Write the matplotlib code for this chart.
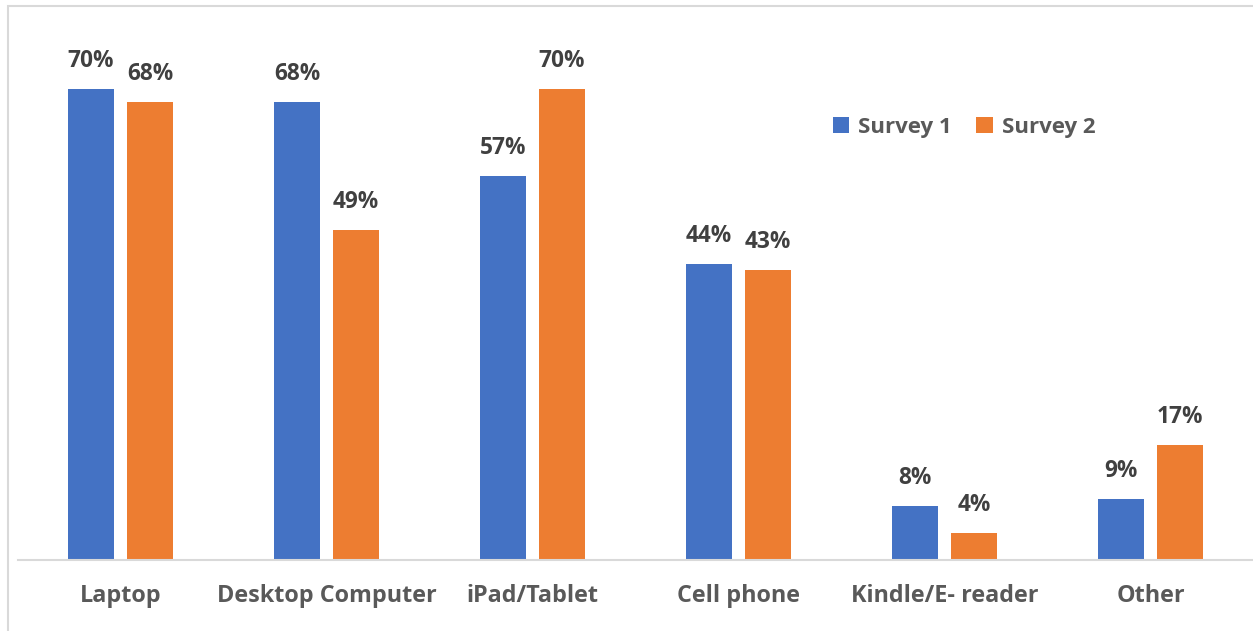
import matplotlib.pyplot as plt
import numpy as np
from matplotlib.patches import Rectangle

categories = ["Laptop", "Desktop Computer", "iPad/Tablet", "Cell phone", "Kindle/E- reader", "Other"]
survey1 = [70, 68, 57, 44, 8, 9]
survey2 = [68, 49, 70, 43, 4, 17]
series_names = ["Survey 1", "Survey 2"]

BLUE = "#4472C4"
ORANGE = "#ED7D31"
FONT = ["Open Sans", "DejaVu Sans"]

W, H = 1253, 631
fig = plt.figure(figsize=(W / 100, H / 100), dpi=100)

# light frame around the chart area
fig.patches.append(Rectangle((7.5 / W, -0.1), 1.2, (H - 5.5) / H + 0.1,
                             transform=fig.transFigure, fill=False,
                             edgecolor="#D9D9D9", linewidth=1.5))

ax = fig.add_axes([17.5 / W, (H - 559.5) / H, (W - 17.5) / W + 0.0005, 538 / H])
x = np.arange(len(categories))
bw = 46 / 206
off = 29.5 / 206

b1 = ax.bar(x - off, survey1, bw, color=BLUE, label=series_names[0])
b2 = ax.bar(x + off, survey2, bw, color=ORANGE, label=series_names[1])

for bars, vals in ((b1, survey1), (b2, survey2)):
    for rect, v in zip(bars, vals):
        ax.annotate(f"{v}%", (rect.get_x() + rect.get_width() / 2, v),
                    xytext=(0, 16), textcoords="offset pixels",
                    ha="center", va="bottom", fontsize=16.3,
                    fontweight="bold", color="#404040", family=FONT)

ax.set_xlim(-0.5, len(categories) - 0.5)
ax.set_ylim(0, 80)
ax.set_yticks([])
ax.set_xticks(x)
ax.set_xticklabels(categories, fontsize=16.8, fontweight="bold",
                   color="#595959", family=FONT)
ax.tick_params(axis="x", length=0, pad=18)
for s in ("top", "right", "left"):
    ax.spines[s].set_visible(False)
ax.spines["bottom"].set_color("#D9D9D9")
ax.spines["bottom"].set_linewidth(1.5)

leg = ax.legend(loc="center", bbox_to_anchor=(964 / W, (H - 127) / H),
                bbox_transform=fig.transFigure, ncol=2, frameon=False,
                handlelength=0.75, handleheight=0.75, handletextpad=0.4,
                columnspacing=1.1,
                prop={"family": FONT, "weight": "bold", "size": 16})
for t in leg.get_texts():
    t.set_color("#595959")

fig.savefig("out.png", dpi=100)
